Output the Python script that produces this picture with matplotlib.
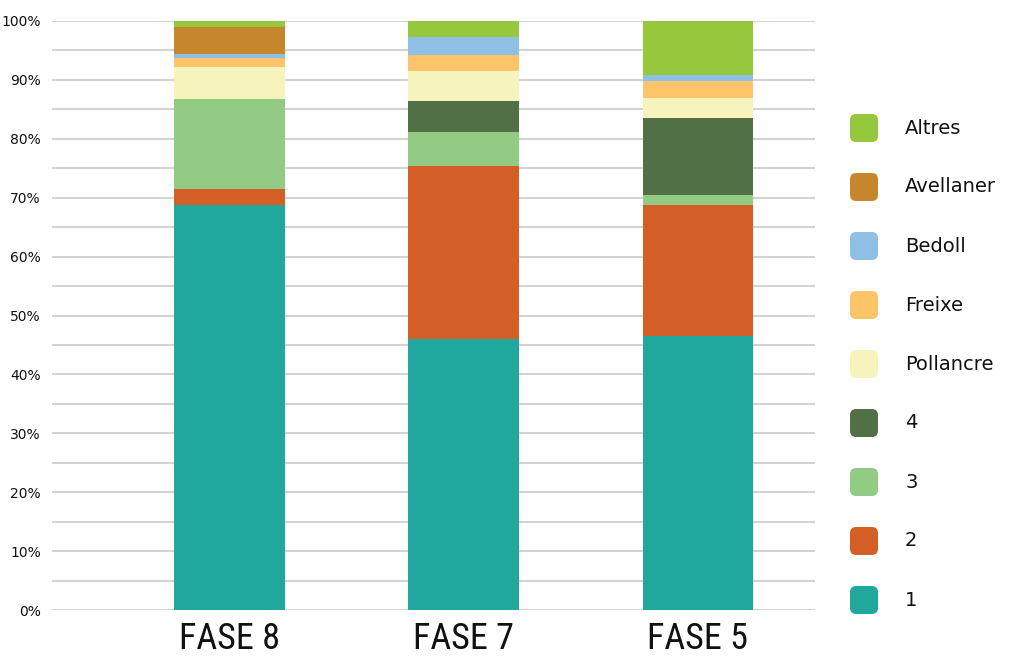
import matplotlib
matplotlib.use("Agg")
import matplotlib.pyplot as plt
from matplotlib.patches import FancyBboxPatch
from matplotlib import font_manager
import numpy as np

categories = ["FASE 8", "FASE 7", "FASE 5"]
series_names = ["1", "2", "3", "4", "Pollancre", "Freixe", "Bedoll", "Avellaner", "Altres"]
v_1 = [68.8, 46.0, 46.6]
v_2 = [2.6, 29.3, 22.2]
v_3 = [15.4, 5.8, 1.7]
v_4 = [0.0, 5.3, 13.1]
v_pollancre = [5.4, 5.1, 3.4]
v_freixe = [1.6, 2.8, 2.8]
v_bedoll = [0.6, 2.9, 1.1]
v_avellaner = [4.6, 0.0, 0.0]
v_altres = [1.0, 2.8, 9.1]
colors = ["#1FA89B", "#D35F27", "#92CB83", "#527046", "#F6F4BC",
          "#FDC46A", "#8EBFE5", "#C6872C", "#95C83C"]
ytick_labels = ["0%", "10%", "20%", "30%", "40%", "50%", "60%", "70%", "80%", "90%", "100%"]

values = [v_1, v_2, v_3, v_4, v_pollancre, v_freixe, v_bedoll, v_avellaner, v_altres]

names = sorted({f.name for f in font_manager.fontManager.ttflist})
narrow = None
for cand in ["Liberation Sans Narrow", "DejaVu Sans Condensed", "Roboto Condensed", "Open Sans Condensed"]:
    if cand in names:
        narrow = cand
        break
print(names)
xfont = dict(family=[narrow] if narrow else ["DejaVu Sans"], stretch="condensed")

W, H = 1022, 664
fig = plt.figure(figsize=(W / 100, H / 100), dpi=100)
ax = fig.add_axes([52 / W, 54 / H, (815 - 52) / W, (610 - 21) / H])

x = np.arange(len(categories))
bottom = np.zeros(len(categories))
for name, vals, c in zip(series_names, values, colors):
    vals = np.array(vals)
    ax.bar(x, vals, bottom=bottom, width=0.474, color=c, edgecolor="none", zorder=3)
    bottom += vals

ax.set_xlim(-0.76, 2.5)
ax.set_ylim(0, 100)
for yv in np.arange(0, 101, 5):
    ax.axhline(yv, color="#D3D3D3", lw=1.5 if yv > 0 else 2.2, zorder=1)

ax.set_yticks(np.arange(0, 101, 10))
ax.set_yticklabels(ytick_labels, fontsize=10, color="#111111")
ax.tick_params(axis="y", length=0, pad=8)
ax.set_xticks(x)
ax.set_xticklabels(categories, fontsize=26, color="#111111", **xfont)
ax.tick_params(axis="x", length=0, pad=8)
for s in ax.spines.values():
    s.set_visible(False)

# legend
leg_order = list(range(len(series_names)))[::-1]
y0 = 128
dy = 59
for i, idx in enumerate(leg_order):
    yc = y0 + i * dy
    sz = 28
    patch = FancyBboxPatch(((850) / W, (H - yc - sz / 2) / H), sz / W, sz / H,
                           boxstyle="round,pad=0,rounding_size=0.006",
                           transform=fig.transFigure, facecolor=colors[idx],
                           edgecolor="none", mutation_aspect=W / H)
    fig.add_artist(patch)
    fig.text(905 / W, (H - yc) / H, series_names[idx], fontsize=14, va="center",
             ha="left", color="#111111")

fig.savefig("out.png", dpi=100)
